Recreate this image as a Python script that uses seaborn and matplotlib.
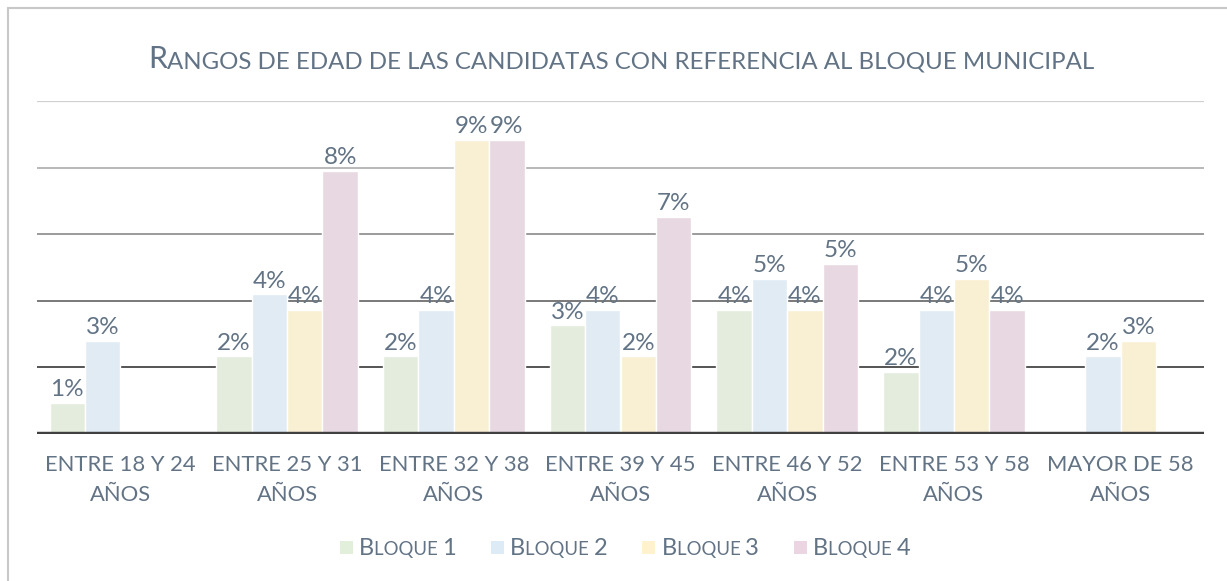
import matplotlib
matplotlib.use("Agg")
import matplotlib.pyplot as plt
import seaborn as sns
import pandas as pd
import numpy as np
from matplotlib.transforms import IdentityTransform
from matplotlib.patches import Rectangle
from matplotlib.lines import Line2D

categories = ["ENTRE 18 Y 24\nAÑOS", "ENTRE 25 Y 31\nAÑOS", "ENTRE 32 Y 38\nAÑOS",
              "ENTRE 39 Y 45\nAÑOS", "ENTRE 46 Y 52\nAÑOS", "ENTRE 53 Y 58\nAÑOS",
              "MAYOR DE 58\nAÑOS"]
series = ["Bloque 1", "Bloque 2", "Bloque 3", "Bloque 4"]
bloque1 = [0.93, 2.33, 2.33, 3.26, 3.72, 1.86, np.nan]
bloque2 = [2.79, 4.19, 3.72, 3.72, 4.65, 3.72, 2.33]
bloque3 = [np.nan, 3.72, 8.84, 2.33, 3.72, 4.65, 2.79]
bloque4 = [np.nan, 7.91, 8.84, 6.51, 5.12, 3.72, np.nan]
colors = ["#e2efda", "#ddebf7", "#fff2cc", "#ebd5e2"]
grid_levels = [2, 4, 6, 8, 10]
grid_colors = ["#262626", "#555555", "#808080", "#a6a6a6", "#d0d0d0"]

TXT = "#627385"
FONT = "Lato"
WEIGHT = "normal"

rows = []
for s, vals in zip(series, [bloque1, bloque2, bloque3, bloque4]):
    for c, v in zip(categories, vals):
        rows.append({"cat": c, "serie": s, "val": v})
df = pd.DataFrame(rows)

sns.set_theme(style="white")
plt.rcParams["font.family"] = [FONT, "DejaVu Sans"]

W, H = 1227, 581
fig = plt.figure(figsize=(W / 100, H / 100), dpi=100)
ax = fig.add_axes([37 / W, 1 - 434 / H, (1204 - 37) / W, (434 - 101) / H])

sns.barplot(data=df, x="cat", y="val", hue="serie", order=categories,
            hue_order=series, palette=colors, width=0.85, gap=0,
            edgecolor="white", linewidth=1, ax=ax, legend=False, zorder=2)

for c in ax.containers:
    ax.bar_label(c, fmt=lambda v: f"{v:.0f}%", padding=2, fontsize=17.5,
                 color=TXT, family=FONT, fontweight=WEIGHT)

for lv, gc in zip(grid_levels, grid_colors):
    ax.axhline(lv, color=gc, lw=1.6 if lv == 10 else 1.1, zorder=0)
ax.axhline(0, color="#404040", lw=3.2, zorder=3)

ax.set_ylim(0, 10)
ax.set_xlim(-0.5, len(categories) - 0.5)
ax.set_yticks([])
ax.set_xlabel("")
ax.set_ylabel("")
for sp in ax.spines.values():
    sp.set_visible(False)
ax.tick_params(axis="x", length=0, pad=15, labelsize=15.8, labelcolor=TXT)
for t in ax.get_xticklabels():
    t.set_family(FONT)
    t.set_fontweight(WEIGHT)
    t.set_linespacing(1.65)

# border
fig.add_artist(Line2D([7.5, 7.5], [-5, H - 8], transform=IdentityTransform(),
                      color="#c8c8c8", lw=1.5))
fig.add_artist(Line2D([7.5, W + 5], [H - 8, H - 8], transform=IdentityTransform(),
                      color="#c8c8c8", lw=1.5))

renderer = fig.canvas.get_renderer()


def smallcaps_segments(text, big, small):
    segs = []
    for word_i, word in enumerate(text.split(" ")):
        if word_i > 0:
            segs.append((" ", small))
        for ch in word:
            if ch.isupper() or ch.isdigit():
                segs.append((ch, big))
            else:
                segs.append((ch.upper(), small))
    merged = []
    for t, s in segs:
        if merged and merged[-1][1] == s:
            merged[-1] = (merged[-1][0] + t, s)
        else:
            merged.append((t, s))
    return merged


def text_width(t, s):
    probe = fig.text(0, 0, "|" + t + "|", fontsize=s, family=FONT, fontweight=WEIGHT)
    bar = fig.text(0, 0, "||", fontsize=s, family=FONT, fontweight=WEIGHT)
    w = probe.get_window_extent(renderer).width - bar.get_window_extent(renderer).width
    probe.remove()
    bar.remove()
    return w


def draw_segments(segs, x, y, ha="center"):
    texts = []
    widths = []
    for t, s in segs:
        tx = fig.text(0, 0, t, fontsize=s, color=TXT, family=FONT, fontweight=WEIGHT,
                      transform=IdentityTransform(), va="baseline", ha="left")
        texts.append(tx)
        widths.append(text_width(t, s))
    total = sum(widths)
    x0 = x - total / 2 if ha == "center" else x
    for tx, w in zip(texts, widths):
        tx.set_position((x0, y))
        x0 += w
    return total


title = "Rangos de edad de las candidatas con referencia al bloque municipal"
draw_segments(smallcaps_segments(title, 22, 17.3), 621, H - 68)

# legend
leg_big, leg_small = 17, 13.4
items = [smallcaps_segments(s, leg_big, leg_small) for s in series]
sq, gap_sq, gap_item = 13, 6, 35
widths = [sum(text_width(t, s) for t, s in sg) for sg in items]
total = sum(sq + gap_sq + w for w in widths) + gap_item * (len(items) - 1)
x = 625 - total / 2
ly = H - 547
for sg, w, col in zip(items, widths, colors):
    fig.add_artist(Rectangle((x, ly - sq / 2), sq, sq, transform=IdentityTransform(),
                             facecolor=col, edgecolor="none"))
    draw_segments(sg, x + sq + gap_sq, ly - 8, ha="left")
    x += sq + gap_sq + w + gap_item

fig.savefig("out.png", dpi=100)
